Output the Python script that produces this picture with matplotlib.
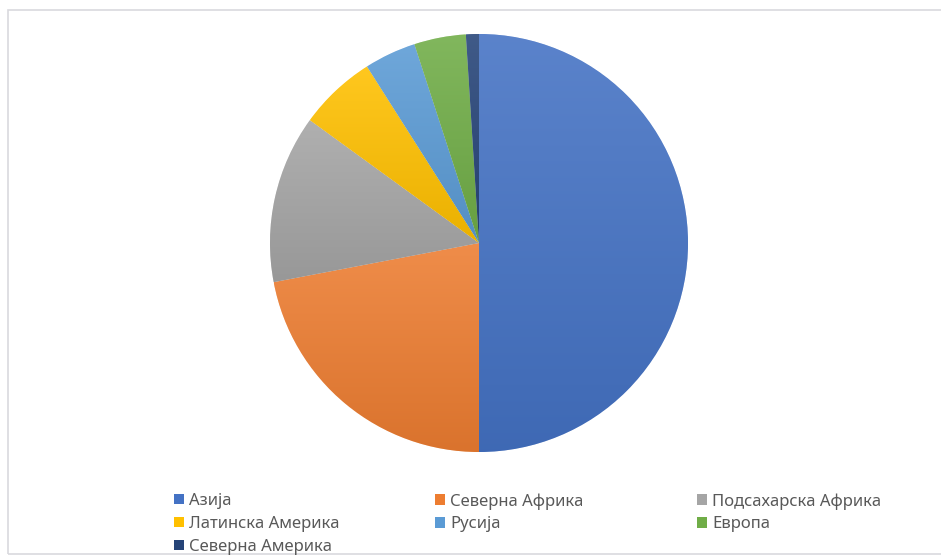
import numpy as np
import matplotlib
matplotlib.use("Agg")
import matplotlib.pyplot as plt
from matplotlib.patches import Rectangle, Patch
from matplotlib.colors import LinearSegmentedColormap, to_rgb

regions = ["Азија", "Северна Африка", "Подсахарска Африка", "Латинска Америка",
           "Русија", "Европа", "Северна Америка"]
shares = [50, 22, 13, 6, 4, 4, 1]
colors = ["#4472C4", "#ED7D31", "#A5A5A5", "#FFC000", "#5B9BD5", "#70AD47", "#264478"]

plt.rcParams['font.family'] = ['Noto Sans', 'DejaVu Sans']

W, H = 941, 555
fig = plt.figure(figsize=(W / 100, H / 100), dpi=100)
fig.patch.set_facecolor("white")

# chart border
fig.add_artist(Rectangle((7.5 / W, 1.5 / H), (W + 10) / W, (H - 11) / H,
                         transform=fig.transFigure, fill=False,
                         edgecolor="#D9D9DE", linewidth=1.2))

cx, cy, r = 479, H - 243, 209
ax = fig.add_axes([(cx - r) / W, (cy - r) / H, 2 * r / W, 2 * r / H])
wedges, _ = ax.pie(shares, colors=colors, startangle=90, counterclock=False,
                   radius=1, wedgeprops=dict(edgecolor="white", linewidth=0.4))
ax.set_xlim(-1, 1)
ax.set_ylim(-1, 1)


def shade(c, f):
    rgb = np.array(to_rgb(c))
    if f > 0:
        return tuple(rgb + (1 - rgb) * f)
    return tuple(rgb * (1 + f))


for w, c in zip(wedges, colors):
    ext = w.get_path().get_extents()
    cmap = LinearSegmentedColormap.from_list("g", [shade(c, -0.08), shade(c, 0.12)])
    grad = np.linspace(0, 1, 256).reshape(-1, 1)
    im = ax.imshow(grad, cmap=cmap, origin="lower", aspect="auto",
                   extent=(ext.x0, ext.x1, ext.y0, ext.y1), zorder=w.get_zorder() + 0.1)
    im.set_clip_path(w)
ax.set_xlim(-1, 1)
ax.set_ylim(-1, 1)
ax.set_axis_off()

# legend: Excel-style row-major layout, three equal-width columns
col_x = [174, 435, 697]
for col in range(3):
    idx = list(range(col, len(regions), 3))
    handles = [Patch(facecolor=colors[i], edgecolor="none") for i in idx]
    labels = [regions[i] for i in idx]
    fig.legend(handles, labels, ncol=1, loc="upper left",
               bbox_to_anchor=(col_x[col] / W, (H - 493) / H),
               frameon=False, fontsize=12, handlelength=0.6, handleheight=0.6,
               handletextpad=0.3, labelspacing=0.42, borderaxespad=0, borderpad=0,
               labelcolor="#595959")

fig.savefig("out.png", dpi=100)
